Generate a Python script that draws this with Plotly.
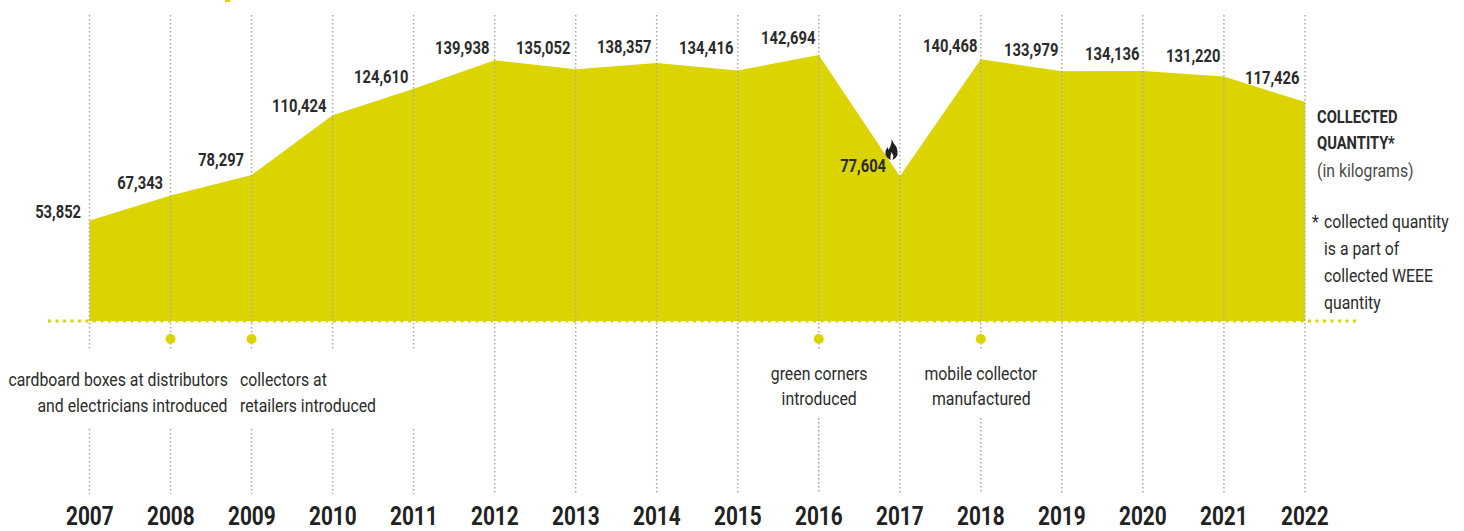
import plotly.graph_objects as go

years = list(range(2007, 2023))
quantity = [53852, 67343, 78297, 110424, 124610, 139938, 135052, 138357, 134416, 142694,
            77604, 140468, 133979, 134136, 131220, 117426]
value_labels = ["53,852", "67,343", "78,297", "110,424", "124,610", "139,938", "135,052", "138,357",
                "134,416", "142,694", "77,604", "140,468", "133,979", "134,136", "131,220", "117,426"]
milestone_years = [2008, 2009, 2016, 2018]

W, H = 1464, 531
X0, PX_YEAR = 89.5, 81.03
Y0, PX_UNIT = 321.0, 1.864e-3
FONT = "Roboto"
DARK = "#2b2b2b"
YEL = "#dcd400"


def px2y(p):
    return (Y0 - p) / PX_UNIT


def px2x(p):
    return 2007 + (p - X0) / PX_YEAR


label_cy = [212, 182, 159, 106, 77, 47, 47, 46, 47, 38, 166, 45, 50, 53, 56, 78]
label_right = [81, 163, 244, 326, 408, 489, 570, 651, 733, 815, 886, 977, 1058, 1139, 1220, 1299]
gap_end = {2007: 429, 2008: 429, 2009: 429, 2010: 429, 2011: 429, 2016: 418, 2018: 418}

fig = go.Figure()
gx, gy = [], []
for yr in years:
    if yr in gap_end:
        gx += [yr, yr, None, yr, yr, None]
        gy += [px2y(15), px2y(350), None, px2y(gap_end[yr]), px2y(494), None]
    else:
        gx += [yr, yr, None]
        gy += [px2y(15), px2y(494), None]

fig.add_trace(go.Scatter(x=years, y=quantity, mode="lines", fill="tozeroy", fillcolor=YEL,
                         line=dict(color=YEL, width=0), hoverinfo="skip", showlegend=False))
fig.add_trace(go.Scatter(x=gx, y=gy, mode="lines", line=dict(color="#a8a8a0", width=1.5, dash="1.5px 2.5px"),
                         hoverinfo="skip", showlegend=False))
fig.add_trace(go.Scatter(x=[px2x(48), px2x(1356)], y=[0, 0], mode="lines",
                         line=dict(color=YEL, width=3, dash="3px 4.5px"), hoverinfo="skip", showlegend=False))
fig.add_trace(go.Scatter(x=milestone_years, y=[px2y(339)] * len(milestone_years), mode="markers",
                         marker=dict(color=YEL, size=10), hoverinfo="skip", showlegend=False))

ann = []


def text(s, xp, yp, size=19, anchor="left", bold=False, color=DARK):
    nudge = {"left": -2, "right": 2, "center": 0}[anchor]
    ann.append(dict(text=s, x=(xp + nudge) / W, y=1 - yp / H, xref="paper", yref="paper",
                    xanchor=anchor, yanchor="middle", showarrow=False, align=anchor,
                    font=dict(family=FONT, size=size, color=color, weight=700 if bold else 400)))


for lab, r, cy in zip(value_labels, label_right, label_cy):
    text(lab, r, cy, size=18, anchor="right", bold=True)
for yr in years:
    text(str(yr), X0 + (yr - 2007) * PX_YEAR, 515.5, size=26, anchor="center", bold=True, color="#222")

for s, xp, yp, a in [
    ("cardboard boxes at distributors", 228, 379, "right"),
    ("and electricians introduced", 228, 405, "right"),
    ("collectors at", 240, 379, "left"),
    ("retailers introduced", 240, 405, "left"),
    ("green corners", 819, 373, "center"),
    ("introduced", 819, 398, "center"),
    ("mobile collector", 981, 373, "center"),
    ("manufactured", 981, 398, "center"),
    ("*", 1312, 222, "left"),
    ("collected quantity", 1324, 222, "left"),
    ("is a part of", 1324, 248, "left"),
    ("collected WEEE", 1324, 275, "left"),
    ("quantity", 1324, 302, "left"),
]:
    text(s, xp, yp, anchor=a)
text("(in kilograms)", 1317, 170, color="#4a4a4a")
text("COLLECTED", 1317, 116, size=18, bold=True)
text("QUANTITY*", 1317, 143, size=18, bold=True)

# flame icon
cx, cy = 891.5, 150
flame = [(0, -11), (2, -7), (5, -3), (6, 1), (6, 5), (4, 8), (1, 10), (2, 6), (0, 2), (-1, 6), (-1, 10), (-4, 8),
         (-6, 5), (-6, 1), (-4, -3), (-3, 0), (-1, -4), (0, -8)]
path = "M " + " L ".join(f"{(cx + a) / W:.5f},{1 - (cy + b) / H:.5f}" for a, b in flame) + " Z"

fig.update_layout(
    width=W, height=H, margin=dict(l=0, r=0, t=0, b=0), paper_bgcolor="white", plot_bgcolor="white",
    xaxis=dict(range=[px2x(0), px2x(W)], visible=False, fixedrange=True),
    yaxis=dict(range=[px2y(H), px2y(0)], visible=False, fixedrange=True),
    annotations=ann,
    shapes=[dict(type="path", xref="paper", yref="paper", path=path, fillcolor="#222", line=dict(width=0)),
            dict(type="rect", xref="paper", yref="paper", x0=225 / W, x1=230 / W, y0=1 - 2 / H, y1=1,
                 fillcolor=YEL, line=dict(width=0))],
    showlegend=False,
)
# Roboto is wider than the reference's condensed face: narrow each label about its own anchor.
post = """
document.body.style.margin='0';document.documentElement.style.overflow='hidden';
var K={'18':0.82,'19':0.832,'26':0.80};
document.querySelectorAll('.annotation-text').forEach(function(t){
  var s=parseFloat(t.style.fontSize), k=K[String(Math.round(s))]||0.8;
  var ax=parseFloat(t.getAttribute('x'))||0;
  t.setAttribute('transform','translate('+ax+',0) scale('+k+',1) translate('+(-ax)+',0)');
});
"""
fig.write_html("out.html", config={"displayModeBar": False}, post_script=post)
